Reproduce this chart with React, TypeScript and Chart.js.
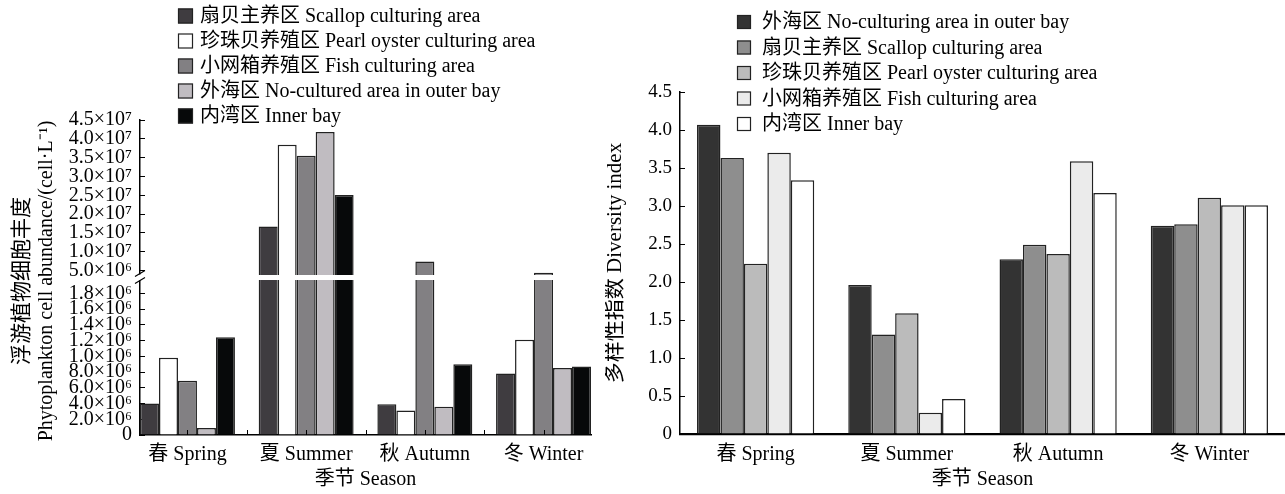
import React, { useEffect, useRef } from 'react';
import { Chart, registerables } from 'chart.js';

Chart.register(...registerables);

const FONT = '"Liberation Serif", "Noto Sans CJK SC", serif';

// ---------- shared categories ----------
const seasons = ['春 Spring', '夏 Summer', '秋 Autumn', '冬 Winter'];
const xTitle = '季节 Season';

// ---------- left panel: phytoplankton abundance (cell/L) ----------
const abundanceLabels = [
  '扇贝主养区 Scallop culturing area',
  '珍珠贝养殖区 Pearl oyster culturing area',
  '小网箱养殖区 Fish culturing area',
  '外海区 No-cultured area in outer bay',
  '内湾区 Inner bay',
];
const scallopAbundance = [0.4e6, 1.67e7, 0.39e6, 0.78e6];
const pearlAbundance = [0.98e6, 3.84e7, 0.31e6, 1.21e6];
const fishAbundance = [0.69e6, 3.55e7, 7.4e6, 4.4e6];
const outerAbundance = [0.09e6, 4.18e7, 0.36e6, 0.85e6];
const innerAbundance = [1.24e6, 2.51e7, 0.9e6, 0.87e6];
const abundanceColors = ['#3f3c40', '#ffffff', '#828083', '#c0bcc1', '#07090a'];

const upperTickValues = [5e6, 1e7, 1.5e7, 2e7, 2.5e7, 3e7, 3.5e7, 4e7, 4.5e7];
const upperTickLabels = ['5.0×10⁶', '1.0×10⁷', '1.5×10⁷', '2.0×10⁷', '2.5×10⁷', '3.0×10⁷', '3.5×10⁷', '4.0×10⁷', '4.5×10⁷'];
const lowerTickValues = [0, 2e5, 4e5, 6e5, 8e5, 1e6, 1.2e6, 1.4e6, 1.6e6, 1.8e6];
const lowerTickLabels = ['0', '2.0×10⁶', '4.0×10⁶', '6.0×10⁶', '8.0×10⁶', '1.0×10⁶', '1.2×10⁶', '1.4×10⁶', '1.6×10⁶', '1.8×10⁶'];
const abundanceTitleCn = '浮游植物细胞丰度';
const abundanceTitleEn = 'Phytoplankton cell abundance/(cell·L⁻¹)';
const LOW_MAX = 2.0e6;
const HIGH_MIN = 3.15e6;

// ---------- right panel: diversity index ----------
const diversityLabels = [
  '外海区 No-culturing area in outer bay',
  '扇贝主养区 Scallop culturing area',
  '珍珠贝养殖区 Pearl oyster culturing area',
  '小网箱养殖区 Fish culturing area',
  '内湾区 Inner bay',
];
const outerDiversity = [4.07, 1.96, 2.3, 2.74];
const scallopDiversity = [3.63, 1.31, 2.49, 2.76];
const pearlDiversity = [2.24, 1.59, 2.37, 3.11];
const fishDiversity = [3.7, 0.28, 3.59, 3.01];
const innerDiversity = [3.34, 0.46, 3.17, 3.01];
const diversityColors = ['#333333', '#8e8e8e', '#bbbbbb', '#ebebeb', '#ffffff'];
const diversityTickValues = [0, 0.5, 1, 1.5, 2, 2.5, 3, 3.5, 4, 4.5];
const diversityTickLabels = ['0', '0.5', '1.0', '1.5', '2.0', '2.5', '3.0', '3.5', '4.0', '4.5'];
const diversityTitle = '多样性指数 Diversity index';

function legendPlugin(id: string, x: number, y0: number, step: number, box: number, gap: number) {
  return {
    id,
    afterDraw(chart: any) {
      const ctx = chart.ctx;
      ctx.save();
      ctx.font = `20px ${FONT}`;
      ctx.textAlign = 'left';
      ctx.textBaseline = 'middle';
      for (let i = 0; i < 5; i++) {
        const ds = chart.data.datasets[i];
        const yc = y0 + i * step;
        ctx.fillStyle = ds.backgroundColor;
        ctx.fillRect(x, yc - box / 2, box, box);
        ctx.strokeStyle = '#222';
        ctx.lineWidth = 1.2;
        ctx.strokeRect(x + 0.5, yc - box / 2 + 0.5, box - 1, box - 1);
        ctx.fillStyle = '#000';
        ctx.fillText(ds.label, x + box + gap, yc + 1);
      }
      ctx.restore();
    },
  };
}

const leftExtras = {
  id: 'leftExtras',
  afterDatasetsDraw(chart: any) {
    const ctx = chart.ctx;
    const ca = chart.chartArea;
    const split = chart.scales.yHigh.bottom;
    ctx.save();
    ctx.fillStyle = '#fff';
    ctx.fillRect(ca.left + 1, split - 2.5, ca.right - ca.left, 5);
    ctx.restore();
  },
  afterDraw(chart: any) {
    const ctx = chart.ctx;
    const ca = chart.chartArea;
    const split = chart.scales.yHigh.bottom;
    const xs = chart.scales.x;
    ctx.save();
    // axis break
    ctx.fillStyle = '#fff';
    ctx.fillRect(ca.left - 5, split - 3, 10, 6);
    ctx.strokeStyle = '#000';
    ctx.lineWidth = 1.2;
    ctx.beginPath();
    ctx.moveTo(ca.left - 5, split - 1);
    ctx.lineTo(ca.left + 5, split - 7);
    ctx.moveTo(ca.left - 5, split + 6);
    ctx.lineTo(ca.left + 5, split);
    ctx.stroke();
    // minor x ticks (inside)
    ctx.lineWidth = 1;
    ctx.beginPath();
    for (let k = 0; k <= 6; k++) {
      const px = Math.round(xs.getPixelForValue(k * 0.5)) + 0.5;
      ctx.moveTo(px, ca.bottom);
      ctx.lineTo(px, ca.bottom - 5);
    }
    ctx.stroke();
    // y title (two lines)
    ctx.fillStyle = '#000';
    ctx.textAlign = 'center';
    ctx.textBaseline = 'middle';
    ctx.translate(0, 281);
    ctx.rotate(-Math.PI / 2);
    ctx.font = `21px ${FONT}`;
    ctx.fillText(abundanceTitleCn, 0, 22);
    ctx.font = `20px ${FONT}`;
    ctx.fillText(abundanceTitleEn, 0, 47);
    ctx.restore();
  },
};

function LeftChart() {
  const ref = useRef<HTMLCanvasElement>(null);
  useEffect(() => {
    const series = [scallopAbundance, pearlAbundance, fishAbundance, outerAbundance, innerAbundance];
    const common = (i: number) => ({
      label: abundanceLabels[i],
      backgroundColor: abundanceColors[i],
      borderColor: '#222',
      borderWidth: 1.5,
      stack: 's' + i,
      xAxisID: 'x',
    });
    const lower = series.map((vals, i) => ({
      ...common(i),
      yAxisID: 'yLow',
      data: vals.map((v, j) => ({ x: j, y: Math.min(v, LOW_MAX) })),
    }));
    const upper = series.map((vals, i) => ({
      ...common(i),
      yAxisID: 'yHigh',
      data: vals.map((v, j) => ({ x: j, y: v > LOW_MAX ? [HIGH_MIN, v] : null })),
    }));
    const yCommon = {
      type: 'linear',
      position: 'left',
      stack: 'abundance',
      stackWeight: 1,
      stacked: false,
      grid: { display: true, drawOnChartArea: false, drawTicks: true, tickLength: -5, color: '#000', lineWidth: 1 },
      border: { display: true, color: '#000', width: 1.5 },
      afterFit: (s: any) => { s.width = 140; },
    };
    const chart = new Chart(ref.current as HTMLCanvasElement, {
      type: 'bar',
      data: { datasets: [...lower, ...upper] as any },
      options: {
        responsive: false,
        animation: false,
        layout: { padding: { top: 120, right: 14, left: 0, bottom: 0 } },
        datasets: { bar: { categoryPercentage: 0.8, barPercentage: 1 } },
        plugins: { legend: { display: false }, tooltip: { enabled: false } },
        scales: {
          x: {
            type: 'linear',
            offset: false,
            min: -0.4,
            max: 3.4,
            afterBuildTicks: (s: any) => { s.ticks = seasons.map((_, i) => ({ value: i })); },
            ticks: {
              autoSkip: false,
              maxRotation: 0,
              padding: 8,
              color: '#000',
              font: { family: FONT, size: 20 },
              callback: (v: any) => seasons[Math.round(Number(v))] ?? '',
            },
            grid: { display: false, drawTicks: false, offset: false },
            border: { display: true, color: '#000', width: 1.5 },
            title: { display: true, text: xTitle, color: '#000', font: { family: FONT, size: 20, lineHeight: 1.2 }, padding: { top: 0, bottom: 2 } },
            afterFit: (s: any) => { s.height = 59; },
          },
          yHigh: {
            ...yCommon,
            weight: 2,
            min: HIGH_MIN,
            max: 4.5e7,
            afterBuildTicks: (s: any) => { s.ticks = upperTickValues.map((v) => ({ value: v })); },
            ticks: {
              autoSkip: false,
              padding: 13,
              color: '#000',
              font: { family: FONT, size: 20 },
              callback: (_v: any, i: number) => upperTickLabels[i],
            },
          },
          yLow: {
            ...yCommon,
            weight: 1,
            min: 0,
            max: LOW_MAX,
            afterBuildTicks: (s: any) => { s.ticks = lowerTickValues.map((v) => ({ value: v })); },
            ticks: {
              autoSkip: false,
              padding: 13,
              color: '#000',
              font: { family: FONT, size: 20 },
              callback: (_v: any, i: number) => lowerTickLabels[i],
            },
          },
        } as any,
      },
      plugins: [leftExtras, legendPlugin('leftLegend', 178, 16, 25, 15, 7)],
    });
    return () => chart.destroy();
  }, []);
  return <canvas ref={ref} width={605} height={494} style={{ position: 'absolute', left: 0, top: 0, width: 605, height: 494 }} />;
}

function RightChart() {
  const ref = useRef<HTMLCanvasElement>(null);
  useEffect(() => {
    const series = [outerDiversity, scallopDiversity, pearlDiversity, fishDiversity, innerDiversity];
    const chart = new Chart(ref.current as HTMLCanvasElement, {
      type: 'bar',
      data: {
        labels: seasons,
        datasets: series.map((vals, i) => ({
          label: diversityLabels[i],
          data: vals,
          backgroundColor: diversityColors[i],
          borderColor: '#222',
          borderWidth: 1.5,
        })),
      },
      options: {
        responsive: false,
        animation: false,
        layout: { padding: { top: 92, right: 0, left: 0, bottom: 0 } },
        datasets: { bar: { categoryPercentage: 0.775, barPercentage: 1 } },
        plugins: { legend: { display: false }, tooltip: { enabled: false } },
        scales: {
          x: {
            offset: true,
            ticks: { padding: 9, color: '#000', font: { family: FONT, size: 20 }, maxRotation: 0, autoSkip: false },
            grid: { display: false, drawTicks: false },
            border: { display: true, color: '#000', width: 2.2 },
            title: { display: true, text: xTitle, color: '#000', font: { family: FONT, size: 20, lineHeight: 1.2 }, padding: { top: 0, bottom: 2 } },
            afterFit: (s: any) => { s.height = 60; },
          },
          y: {
            min: 0,
            max: 4.5,
            afterBuildTicks: (s: any) => { s.ticks = diversityTickValues.map((v) => ({ value: v })); },
            ticks: {
              autoSkip: false,
              padding: 13,
              color: '#000',
              font: { family: FONT, size: 19 },
              callback: (_v: any, i: number) => diversityTickLabels[i],
            },
            grid: { display: true, drawOnChartArea: false, drawTicks: true, tickLength: -5, color: '#000', lineWidth: 1 },
            border: { display: true, color: '#000', width: 1.5 },
            title: { display: true, text: diversityTitle, color: '#000', font: { family: FONT, size: 21, lineHeight: 1 }, padding: 0 },
            afterFit: (s: any) => { s.width = 75; },
          },
        } as any,
      },
      plugins: [legendPlugin('rightLegend', 132, 22, 25.5, 14, 11)],
    });
    return () => chart.destroy();
  }, []);
  return <canvas ref={ref} width={680} height={494} style={{ position: 'absolute', left: 605, top: 0, width: 680, height: 494 }} />;
}

export default function App() {
  return (
    <div style={{ position: 'fixed', left: 0, top: 0, width: 1285, height: 494, background: '#fff', overflow: 'hidden' }}>
      <LeftChart />
      <RightChart />
    </div>
  );
}
